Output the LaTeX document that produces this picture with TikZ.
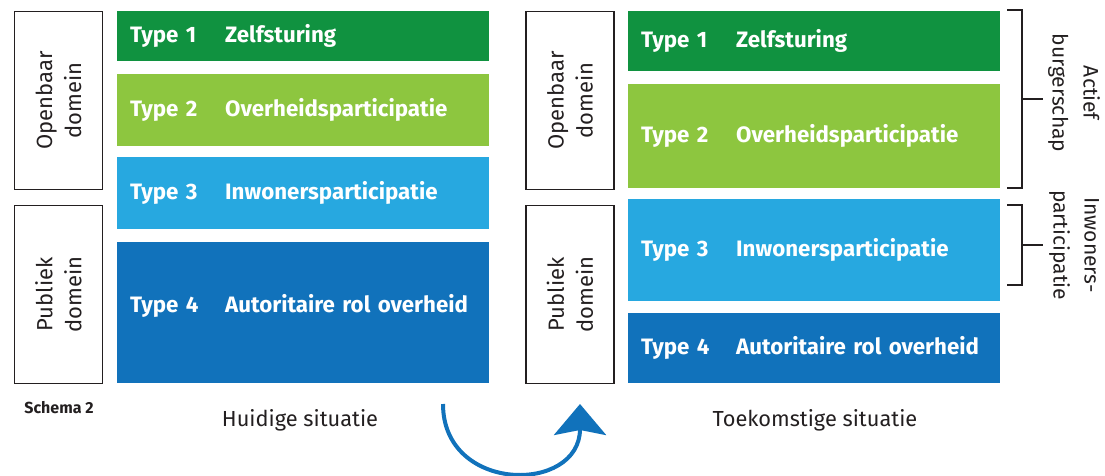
\documentclass[tikz,border=0pt]{standalone}
\usepackage{fontspec}
\setmainfont{Fira Sans}
\usetikzlibrary{arrows.meta}
\definecolor{cOne}{RGB}{16,146,64}
\definecolor{cTwo}{RGB}{141,198,63}
\definecolor{cThree}{RGB}{39,168,224}
\definecolor{cFour}{RGB}{17,114,187}
\definecolor{frameclr}{RGB}{35,31,32}
\begin{document}
\begin{tikzpicture}[x=1pt,y=-1pt,
  bar/.style={anchor=north west, minimum width=372pt, inner xsep=13pt, inner ysep=0pt,
    text width=346pt, align=left, text=white, font=\fontsize{22.3}{26}\selectfont\bfseries},
  dombox/.style={draw=frameclr, line width=1.6pt, minimum width=178pt, minimum height=88pt,
    rotate=90, align=center, inner sep=0pt, font=\fontsize{22}{29}\selectfont, text=frameclr},
  brk/.style={draw=frameclr, line width=1.4pt},
  side/.style={rotate=-90, align=center, font=\fontsize{21}{31}\selectfont, text=frameclr},
  captxt/.style={font=\fontsize{21.8}{26}\selectfont, text=frameclr}]
\useasboundingbox (0,0) rectangle (1105,475);
\newcommand{\tl}[2]{\makebox[95pt][l]{#1}#2}
% left side
\node[dombox] (lo) at (58.5,100.5) {Openbaar\\domein};
\node[dombox] (lp) at (58.5,294.5) {Publiek\\domein};
\node[bar, fill=cOne, minimum height=50pt] (l1) at (117,11) {\tl{Type 1}{Zelfsturing}};
\node[bar, fill=cTwo, minimum height=72pt] (l2) at (117,74) {\tl{Type 2}{Overheidsparticipatie}};
\node[bar, fill=cThree, minimum height=72pt] (l3) at (117,157) {\tl{Type 3}{Inwonersparticipatie}};
\node[bar, fill=cFour, minimum height=141pt] (l4) at (117,242) {\raisebox{7pt}[\height][\depth]{\tl{Type 4}{Autoritaire rol overheid}}};
\node[font=\fontsize{16}{18}\selectfont\bfseries, text=frameclr] (sch) at (59,408) {Schema 2};
\node[captxt] (hs) at (300,420) {Huidige situatie};
% right side
\node[dombox] (ro) at (570,100.5) {Openbaar\\domein};
\node[dombox] (rp) at (570,294.5) {Publiek\\domein};
\node[bar, fill=cOne, minimum height=60pt] (r1) at (628,11) {\tl{Type 1}{Zelfsturing}};
\node[bar, fill=cTwo, minimum height=104pt] (r2) at (628,84) {\tl{Type 2}{Overheidsparticipatie}};
\node[bar, fill=cThree, minimum height=102pt] (r3) at (628,199) {\tl{Type 3}{Inwonersparticipatie}};
\node[bar, fill=cFour, minimum height=70pt] (r4) at (628,313) {\tl{Type 4}{Autoritaire rol overheid}};
\node[captxt] (ts) at (815,420) {Toekomstige situatie};
% brackets
\coordinate (b1a) at (1007,10);
\coordinate (b1b) at (1007,188);
\coordinate (b1m) at (1043,99);
\draw[brk] (b1a) -- (1022,10) -- (1022,188) -- (b1b);
\draw[brk] (1022,99) -- (b1m);
\node[side] (ab) at (1074,93) {Actief\\burgerschap};
\coordinate (b2a) at (1007,205);
\coordinate (b2b) at (1007,285);
\coordinate (b2m) at (1043,245);
\draw[brk] (b2a) -- (1022,205) -- (1022,285) -- (b2b);
\draw[brk] (1022,245) -- (b2m);
\node[side] (ip) at (1074,245) {Inwoners-\\participatie};
% arrow
\coordinate (as) at (443,404);
\coordinate (ae) at (580,404);
\draw[cFour, line width=4pt, -{Stealth[length=31pt, width=52pt, inset=5pt]}]
  (as) .. controls (443,494) and (580,494) .. (ae);
\end{tikzpicture}
\end{document}
